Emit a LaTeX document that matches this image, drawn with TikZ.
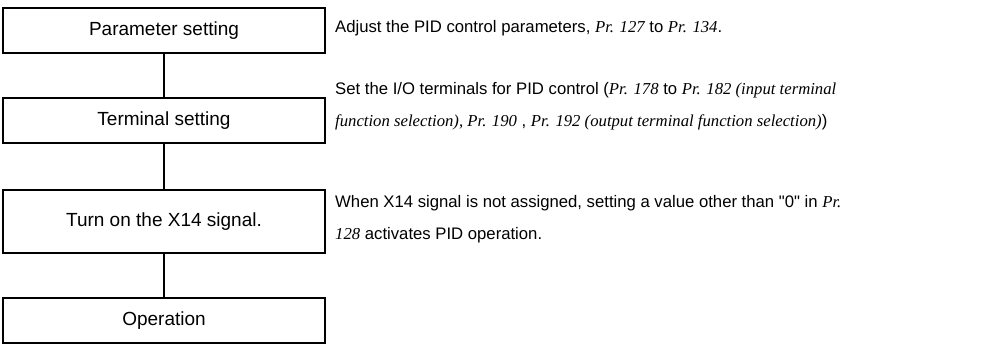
\documentclass[tikz,border=0pt]{standalone}
\usepackage{fontspec}
\setmainfont{Liberation Sans}[Ligatures=TeXOff]
\newfontfamily\prfont{Liberation Serif}
\newcommand{\pr}[1]{{\prfont\itshape #1}}
\begin{document}
\begin{tikzpicture}[x=1pt,y=-1pt,
  stepbox/.style={draw,line width=1.3pt,minimum width=322pt,inner sep=0pt,font=\fontsize{19}{22}\selectfont},
  desc/.style={anchor=west,align=left,inner sep=0pt,font=\fontsize{16.7}{32}\selectfont},
  conn/.style={line width=1.3pt}]
\useasboundingbox (0,0) rectangle (983,345);
\node[stepbox,minimum height=45pt] (b1) at (164,30.5) {Parameter setting};
\node[stepbox,minimum height=45pt] (b2) at (164,120.5) {Terminal setting};
\node[stepbox,minimum height=63pt] (b3) at (164,221.5) {Turn on the X14 signal.};
\node[stepbox,minimum height=45pt] (b4) at (164,320.5) {Operation};
\draw[conn] (b1) -- (b2);
\draw[conn] (b2) -- (b3);
\draw[conn] (b3) -- (b4);
\node[desc] (t1) at (335,28) {Adjust the PID control parameters, \pr{Pr. 127} to \pr{Pr. 134}.};
\node[desc] (t2) at (335,106) {Set the I/O terminals for PID control (\pr{Pr. 178} to \pr{Pr. 182 (input terminal}\\\pr{function selection), Pr. 190} , \pr{Pr. 192 (output terminal function selection)})};
\node[desc] (t3) at (335,219) {When X14 signal is not assigned, setting a value other than "0" in \pr{Pr.}\\\pr{128} activates PID operation.};
\end{tikzpicture}
\end{document}
